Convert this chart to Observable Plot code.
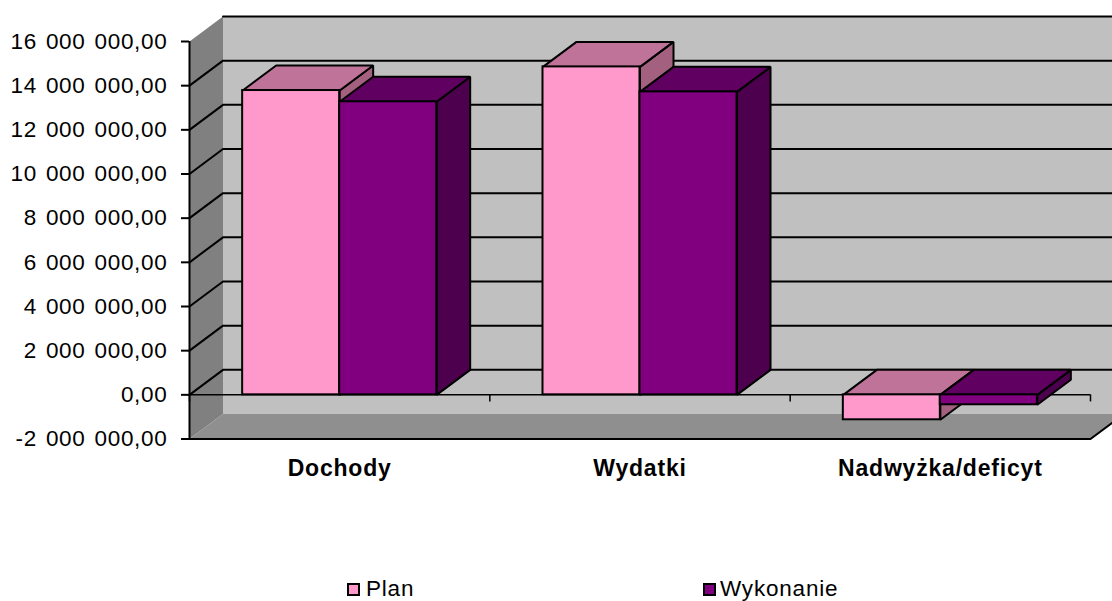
<!DOCTYPE html>
<html lang="pl">
<head>
<meta charset="utf-8">
<script src="https://cdn.jsdelivr.net/npm/d3@7"></script>
<script src="https://cdn.jsdelivr.net/npm/@observablehq/plot@0.6"></script>
<style>
html,body{margin:0;padding:0;background:#fff;overflow:hidden;}
#chart svg{display:block;}
g[aria-label="y-axis tick label"] text{letter-spacing:0.7px;word-spacing:2px;}
g[aria-label="x-axis tick label"] text{letter-spacing:0.8px;}
#legend{position:relative;height:26px;font:22.5px "Liberation Sans",Arial,sans-serif;color:#000;letter-spacing:0.8px;}
#legend span{position:absolute;white-space:nowrap;}
#legend i{position:absolute;box-sizing:border-box;width:13px;height:13px;border:2px solid #000;top:8px;}
</style>
</head>
<body>
<div id="chart"></div>
<div id="legend">
  <i style="left:347px;background:#FF99CC"></i><span style="left:366px;top:1px">Plan</span>
  <i style="left:703px;background:#800080"></i><span style="left:720px;top:1px">Wykonanie</span>
</div>
<script>
const categories = ["Dochody", "Wydatki", "Nadwyżka/deficyt"];
const plan = [13780000, 14850000, -1130000];
const wykonanie = [13270000, 13720000, -450000];
const yTicks = [-2000000, 0, 2000000, 4000000, 6000000, 8000000, 10000000, 12000000, 14000000, 16000000];
const yTickLabels = ["-2 000 000,00", "0,00", "2 000 000,00", "4 000 000,00", "6 000 000,00", "8 000 000,00", "10 000 000,00", "12 000 000,00", "14 000 000,00", "16 000 000,00"];

// Oblique projection: depth expressed in data units of each scale.
const depthX = 33.5 / 300.33;
const depthY = 25 * 2000000 / 44.17;
const gap = 0.177, barW = 0.323;
const yMin = -2000000, yMax = 16000000, xMax = 3;

const poly = (pts, fill, stroke) => Plot.line(
  pts.map(([x, y]) => ({x, y})),
  {x: "x", y: "y", fill, stroke: stroke || "none", strokeWidth: 2, strokeLinejoin: "miter", curve: "linear"}
);

function box(x0, x1, v, cols) {
  const hi = Math.max(v, 0), lo = Math.min(v, 0);
  const side = [[x1, hi], [x1 + depthX, hi + depthY], [x1 + depthX, lo + depthY], [x1, lo], [x1, hi]];
  const top = [[x0, hi], [x0 + depthX, hi + depthY], [x1 + depthX, hi + depthY], [x1, hi], [x0, hi]];
  return [
    poly(side, cols.side, "#000"),
    poly(top, cols.top, "#000"),
    Plot.rect([{x1: x0, x2: x1, y1: lo, y2: hi}], {x1: "x1", x2: "x2", y1: "y1", y2: "y2", fill: cols.front, stroke: "#000", strokeWidth: 2})
  ];
}

const planCols = {front: "#FF99CC", top: "#C07399", side: "#A3617F"};
const wykCols = {front: "#800080", top: "#600060", side: "#4D004D"};

const bars = categories.flatMap((c, i) => {
  const a = i + gap, b = a + barW, d = b + barW;
  return [...box(a, b, plan[i], planCols), ...box(b, d, wykonanie[i], wykCols)];
});

const backRight = xMax + depthX;
const grid = yTicks.slice(1).map(v => poly(
  v === yMax
    ? [[depthX, v + depthY], [backRight, v + depthY]]
    : [[0, v], [depthX, v + depthY], [backRight, v + depthY]],
  "none", "#000"
));

const chart = Plot.plot({
  width: 1112, height: 575,
  marginLeft: 189, marginRight: 22, marginTop: 41, marginBottom: 136.5,
  x: {domain: [0, xMax]},
  y: {domain: [yMin, yMax]},
  style: {fontFamily: '"Liberation Sans", Arial, sans-serif', color: "#000", background: "#fff", overflow: "hidden"},
  marks: [
    // back wall
    poly([[depthX, yMin + depthY], [depthX, yMax + depthY], [backRight, yMax + depthY], [backRight, yMin + depthY]], "#C0C0C0"),
    // left wall
    poly([[0, yMin], [0, yMax], [depthX, yMax + depthY], [depthX, yMin + depthY]], "#808080"),
    // floor
    poly([[0, yMin], [depthX, yMin + depthY], [backRight, yMin + depthY], [xMax, yMin]], "#8F8F8F"),
    ...grid,
    // bottom front edge and right slant
    poly([[0, yMin], [xMax, yMin], [backRight, yMin + depthY]], "none", "#000"),
    // zero line with category ticks
    Plot.ruleY([0], {x1: 0, x2: xMax, stroke: "#000", strokeWidth: 1.5}),
    Plot.ruleX([0, 1, 2, 3], {y1: 0, y2: -320000, stroke: "#000", strokeWidth: 1.5}),
    ...bars,
    // front vertical axis
    Plot.ruleX([0], {y1: yMin, y2: yMax, stroke: "#000", strokeWidth: 2}),
    Plot.axisY({
      ticks: yTicks,
      tickFormat: v => yTickLabels[yTicks.indexOf(v)],
      tickSize: 8, tickPadding: 14, fontSize: 22.5, label: null, strokeWidth: 2, stroke: "#000"
    }),
    Plot.axisX({
      ticks: [0.5, 1.5, 2.5],
      tickFormat: v => categories[Math.floor(v)],
      tickSize: 0, tickPadding: 21, fontSize: 23, fontWeight: "bold", label: null
    })
  ]
});
document.getElementById("chart").appendChild(chart);
</script>
</body>
</html>
